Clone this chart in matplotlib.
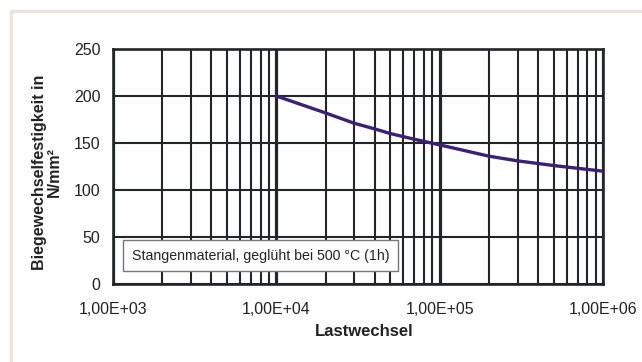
import matplotlib
matplotlib.use("Agg")
import matplotlib.pyplot as plt
from matplotlib.patches import Rectangle
from matplotlib.ticker import LogLocator, NullFormatter

plt.rcParams['font.family'] = ['Liberation Sans', 'DejaVu Sans']

# Biegewechselfestigkeit ueber Lastwechsel
lastwechsel = [1e4, 2e4, 3e4, 4e4, 5e4, 7e4, 1e5, 2e5, 3e5, 5e5, 1e6]
festigkeit = [200, 182, 171, 165, 160, 154, 148, 136, 131, 126, 120]
xticks = [1e3, 1e4, 1e5, 1e6]
xtick_labels = ["1,00E+03", "1,00E+04", "1,00E+05", "1,00E+06"]
yticks = [0, 50, 100, 150, 200, 250]
note = "Stangenmaterial, geglüht bei 500 °C (1h)"

W, H = 642, 362
fig = plt.figure(figsize=(W / 100, H / 100), dpi=100)
fig.patch.set_facecolor("white")

# beige frame, only top and left edge are visible
fig.patches.append(Rectangle((11 / W, -1.0), 3.0, 2.0 - 11 / H,
                             transform=fig.transFigure, fill=False,
                             edgecolor="#efe4da", linewidth=2.5))

ax = fig.add_axes([113 / W, 1 - 284 / H, (603 - 113) / W, (284 - 49) / H])
ax.set_xscale("log")
ax.set_xlim(1e3, 1e6)
ax.set_ylim(0, 250)

grid_col = "#222628"
ax.xaxis.set_minor_locator(LogLocator(base=10, subs=range(2, 10), numticks=20))
ax.xaxis.set_minor_formatter(NullFormatter())
ax.set_xticks(xticks)
ax.set_xticklabels(xtick_labels)
ax.set_yticks(yticks)

ax.grid(True, which="major", axis="x", color=grid_col, linewidth=2.3)
ax.grid(True, which="minor", axis="x", color=grid_col, linewidth=1.5)
ax.grid(True, which="major", axis="y", color=grid_col, linewidth=1.5)
ax.set_axisbelow(True)

for s in ax.spines.values():
    s.set_color(grid_col)
    s.set_linewidth(1.9)

ax.tick_params(axis="both", which="both", length=0, labelsize=11.5, colors="#222")
ax.tick_params(axis="x", pad=13)
ax.tick_params(axis="y", pad=9)

ax.plot(lastwechsel, festigkeit, color="#3a2178", linewidth=2.4, zorder=3)

ax.text(0.038, 0.12, note, transform=ax.transAxes, fontsize=10.2, color="#222",
        va="center", ha="left", zorder=4,
        bbox=dict(boxstyle="square,pad=0.6", facecolor="white",
                  edgecolor="#777777", linewidth=1.0))

fig.text(364 / W, 1 - 331 / H, "Lastwechsel", fontsize=12, fontweight="bold",
         ha="center", va="center", color="#222")
fig.text(47 / W, 1 - 172 / H, "Biegewechselfestigkeit in\nN/mm²", fontsize=11.5,
         fontweight="bold", ha="center", va="center", rotation=90,
         multialignment="center", color="#222", linespacing=1.0)

fig.savefig("out.png", dpi=100)
